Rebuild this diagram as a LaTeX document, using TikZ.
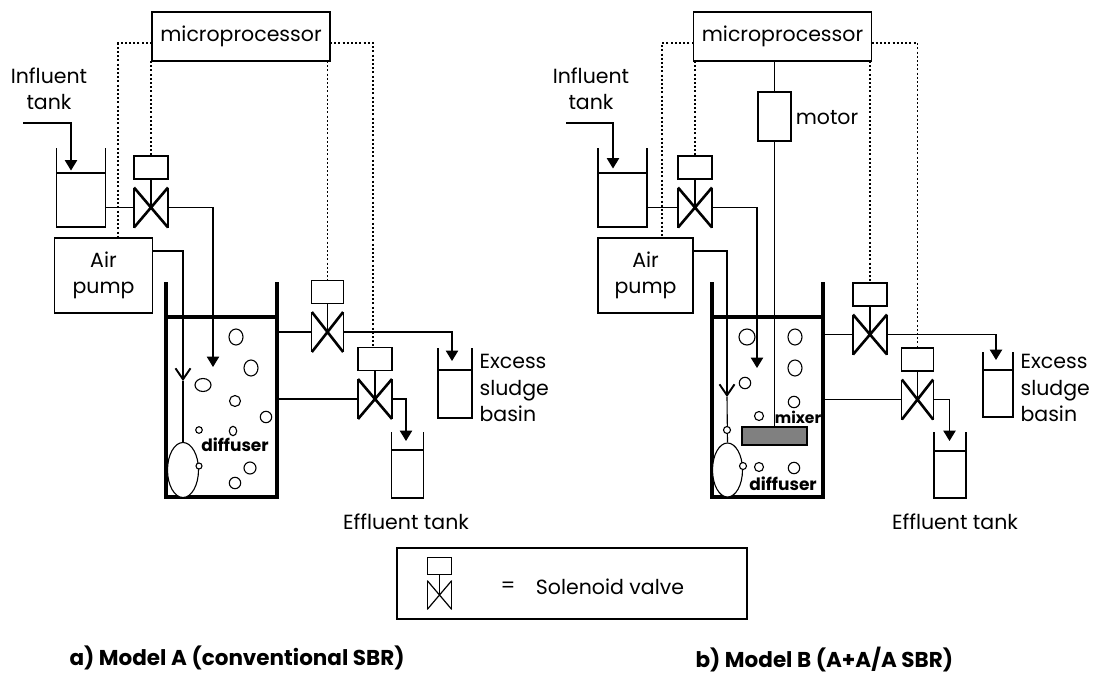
\documentclass[tikz,border=0pt]{standalone}
\usepackage{fontspec}
\setmainfont{Poppins}
\usetikzlibrary{arrows.meta,shapes.geometric}

\tikzset{
  box/.style={draw, rectangle, inner sep=0pt, outer sep=0pt, align=center},
  wall/.style={draw, rectangle, inner sep=0pt, outer sep=0pt, line width=3.2pt},
  ctrl/.style={dash pattern=on 2pt off 2.2pt},
  barb/.style={-{Straight Barb[width=15pt,length=11pt,line width=1.9pt]}},
  txt/.style={align=center, inner sep=0pt},
  boldtxt/.style={inner sep=0pt, font=\fontsize{17}{20}\selectfont\bfseries},
  captxt/.style={inner sep=0pt, anchor=west, font=\fontsize{21.5}{25}\selectfont\bfseries},
  valvecross/.style={line width=2.6pt},
  solvalve/.pic={
    \draw[valvecross] (-17,-20) -- (17,20) (-17,20) -- (17,-20);
    \draw (-17,-20) -- (-17,20) (17,-20) -- (17,20);
    \draw (-17,-51.5) rectangle (17,-28.5);
    \draw (0,-28.5) -- (0,0);
    \coordinate (-in) at (-17,0);
    \coordinate (-out) at (17,0);
    \coordinate (-top) at (0,-51.5);
  }
}

\begin{document}
\begin{tikzpicture}[x=1pt, y=-1pt, line width=1.1pt, >={Triangle[width=12.5pt,length=10.5pt]},
  font=\fontsize{20.5}{26.5}\selectfont]
\useasboundingbox (0,0) rectangle (1098,675);
%%%

% a) Model A
\node[box, minimum width=178pt, minimum height=49pt] (mp1) at (241,36.5) {microprocessor};
\node[box, minimum width=98pt, minimum height=75pt] (pump1) at (103.5,275.5) {Air\\pump};
\node[box, minimum width=49pt, minimum height=54pt] (tank1) at (81,200) {};
\node[box, minimum width=34pt, minimum height=48pt] (excess1) at (455,394) {};
\node[box, minimum width=32pt, minimum height=48pt] (effl1) at (407.5,474) {};
\node[wall, minimum width=111pt, minimum height=180pt] (reactor1) at (221.5,407) {};
\draw (tank1.north west) -- ++(0,-25) (tank1.north east) -- ++(0,-25);
\draw (excess1.north west) -- ++(0,-22) (excess1.north east) -- ++(0,-22);
\draw (effl1.north west) -- ++(0,-18) (effl1.north east) -- ++(0,-18);
\draw[line width=3.2pt] (reactor1.north west) -- ++(0,-35) (reactor1.north east) -- ++(0,-35);

\node[txt] (inftxt1) at (49,89) {Influent\\tank};
\node[txt, align=left, anchor=west] (exctxt1) at (479,388) {Excess\\sludge\\basin};
\node[txt] (efftxt1) at (406,522) {Effluent tank};

\pic (v1) at (151,207.5) {solvalve};
\pic[xscale=.92] (v2) at (327.5,332) {solvalve};
\pic (v3) at (375,399) {solvalve};

\node[draw, ellipse, fill=white, inner sep=0pt, minimum width=31pt, minimum height=55pt] (diff1) at (183,470) {};
\node[boldtxt] (difftxt1) at (235,445) {diffuser};

\coordinate (dl1) at (118,43);
\coordinate (dr1) at (373,43);
\coordinate (in1) at (23,123);
\coordinate (intip1) at (71,170.5);
\coordinate (air1) at (183,251);
\coordinate (airv1) at (183,381);
\coordinate (feed1) at (213,367);
\coordinate (exctip1) at (452,361);
\coordinate (efftip1) at (406,441);

\draw[ctrl] (mp1.west |- dl1) -- (dl1) -- (dl1 |- pump1.north);
\draw[ctrl] (mp1.east |- dr1) -- (dr1) -- (dr1 |- v3-top);
\draw[ctrl] (v1-top |- mp1.south) -- (v1-top);
\draw[ctrl] (v2-top |- mp1.south) -- (v2-top);

\draw[->] (in1) -| (intip1);
\draw (tank1.east |- v1-in) -- (v1-in);
\draw[->] (v1-out) -| (feed1);
\draw[barb] (pump1.east |- air1) -| (airv1);
\draw (airv1) -- (diff1.north);
\draw (reactor1.east |- v2-in) -- (v2-in);
\draw[->] (v2-out) -| (exctip1);
\draw (reactor1.east |- v3-in) -- (v3-in);
\draw[->] (v3-out) -| (efftip1);

% bubbles
\draw (236,337) ellipse (7 and 8) (251,368) ellipse (7 and 8) (203,385) ellipse (8 and 6.5)
  (235,401) ellipse (5.5 and 5.5) (266,417) ellipse (5.7 and 5.7) (199,430) ellipse (3.3 and 3.3)
  (233,431) ellipse (3.7 and 4.7) (250,468) ellipse (6 and 6) (235,483) ellipse (5.7 and 5.7);
\draw[fill=white] (199,466) ellipse (3 and 3);

% b) Model B
\node[box, minimum width=178pt, minimum height=49pt] (mp2) at (782.5,36.5) {microprocessor};
\node[box, minimum width=95pt, minimum height=75pt] (pump2) at (645.5,275.5) {Air\\pump};
\node[box, minimum width=49pt, minimum height=54pt] (tank2) at (622.5,200) {};
\node[box, minimum width=30pt, minimum height=47pt] (excess2) at (998,393.5) {};
\node[box, minimum width=32pt, minimum height=47pt] (effl2) at (950,474.5) {};
\node[wall, minimum width=111pt, minimum height=180pt] (reactor2) at (767.5,407) {};
\node[box, minimum width=33pt, minimum height=49pt] (motor2) at (774.5,116.5) {};
\node[box, minimum width=65pt, minimum height=18pt, fill=gray] (mixer2) at (774.5,436) {};
\draw (tank2.north west) -- ++(0,-25) (tank2.north east) -- ++(0,-25);
\draw (excess2.north west) -- ++(0,-18) (excess2.north east) -- ++(0,-18);
\draw (effl2.north west) -- ++(0,-19) (effl2.north east) -- ++(0,-19);
\draw[line width=3.2pt] (reactor2.north west) -- ++(0,-35) (reactor2.north east) -- ++(0,-35);

\node[txt] (inftxt2) at (591,89) {Influent\\tank};
\node[txt, align=left, anchor=west] (exctxt2) at (1020,388) {Excess\\sludge\\basin};
\node[txt] (efftxt2) at (955,522) {Effluent tank};
\node[txt] (motortxt2) at (827,118) {motor};

\pic (v4) at (695,207.5) {solvalve};
\pic (v5) at (870,334.5) {solvalve};
\pic[xscale=.92] (v6) at (917.5,399.5) {solvalve};

\node[draw, ellipse, fill=white, inner sep=0pt, minimum width=30pt, minimum height=54pt] (diff2) at (727.5,470) {};
\node[boldtxt] (difftxt2) at (783,484) {diffuser};
\node[boldtxt, font=\fontsize{15.5}{18}\selectfont\bfseries] (mixtxt2) at (798,417) {mixer};

\coordinate (dl2) at (662,43);
\coordinate (dr2) at (917.5,43);
\coordinate (in2) at (566,123);
\coordinate (intip2) at (613,168.5);
\coordinate (air2) at (727,251);
\coordinate (airv2) at (727,397);
\coordinate (feed2) at (757,368);
\coordinate (exctip2) at (996,360);
\coordinate (efftip2) at (949.5,441);

\draw[ctrl] (mp2.west |- dl2) -- (dl2) -- (dl2 |- pump2.north);
\draw[ctrl] (mp2.east |- dr2) -- (dr2) -- (dr2 |- v6-top);
\draw[ctrl] (v4-top |- mp2.south) -- (v4-top);
\draw[ctrl] (v5-top |- mp2.south) -- (v5-top);

\draw (motor2.north) -- (motor2.north |- mp2.south);
\draw (motor2.south) -- (mixer2.north);

\draw[->] (in2) -| (intip2);
\draw (tank2.east |- v4-in) -- (v4-in);
\draw[->] (v4-out) -| (feed2);
\draw[barb] (pump2.east |- air2) -| (airv2);
\draw (airv2) -- (diff2.north);
\draw (reactor2.east |- v5-in) -- (v5-in);
\draw[->] (v5-out) -| (exctip2);
\draw (reactor2.east |- v6-in) -- (v6-in);
\draw[->] (v6-out) -| (efftip2);

% bubbles
\draw (747,337) ellipse (8 and 8) (795,337) ellipse (7 and 8) (795,368) ellipse (7 and 8)
  (745,383) ellipse (5.7 and 5.7) (794,402) ellipse (5.7 and 5.7) (759,416) ellipse (4.5 and 4.5)
  (759,467) ellipse (4.5 and 4.5) (794,468) ellipse (5.7 and 5.7);
\draw[fill=white] (727,430) ellipse (3.5 and 3.5) (743,466) ellipse (3.5 and 3.5);

% legend
\node[box, minimum width=350pt, minimum height=71pt] (legend) at (572,583.5) {};
\pic[scale=.72, valvecross/.style={line width=1.2pt}] (v0) at (439.5,595) {solvalve};
\node[txt] (eqtxt) at (508,587) {=};
\node[txt] (soltxt) at (610,587) {Solenoid valve};

\node[captxt] (capa) at (69,658) {a) Model A (conventional SBR)};
\node[captxt] (capb) at (695,660) {b) Model B (A+A/A SBR)};
%%%

\end{tikzpicture}
\end{document}
